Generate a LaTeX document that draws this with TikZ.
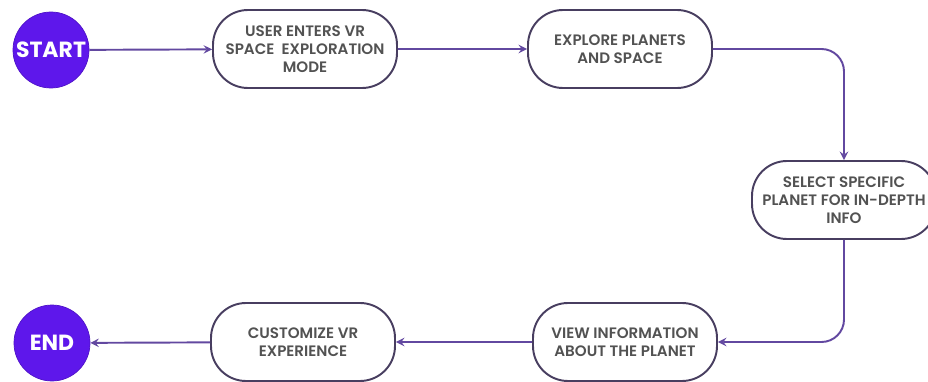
\documentclass[tikz,border=0pt]{standalone}
\usepackage{fontspec}
\setmainfont{Poppins}
\newfontfamily\stepfont{Poppins SemiBold}
\usetikzlibrary{calc}
\usetikzlibrary{shapes}
\usetikzlibrary{arrows}

\definecolor{termpurple}{RGB}{94,23,235}
\definecolor{linepurple}{RGB}{98,72,160}
\definecolor{boxedge}{RGB}{72,62,96}
\definecolor{boxtext}{RGB}{82,82,82}

\begin{document}
\begin{tikzpicture}[>=stealth,
    term/.style={circle, fill=termpurple, draw=termpurple!85!black, line width=0.4pt, minimum size=1.52cm, inner sep=0pt, text=white, font=\bfseries\fontsize{12.5}{14}\selectfont},
    stepbox/.style={draw=boxedge, fill=white, line width=1.1pt, rounded corners=0.7cm, minimum width=3.68cm, minimum height=1.56cm, align=center, text=boxtext, font=\stepfont\fontsize{8.6}{10.3}\selectfont},
    flow/.style={->, linepurple, line width=1.1pt}]
    \useasboundingbox (0,0) rectangle (18.56,-7.62);

    \node (St) at (1.02,-1.0) [term] {START};
    \node (B1) at (6.1,-0.98) [stepbox] {USER ENTERS VR\\SPACE \ EXPLORATION\\MODE};
    \node (B2) at (12.4,-0.98) [stepbox] {EXPLORE PLANETS\\AND SPACE};
    \node (B3) at (16.88,-4.0) [stepbox] {SELECT SPECIFIC\\PLANET FOR IN-DEPTH\\INFO};
    \node (B4) at (12.5,-6.84) [stepbox] {VIEW INFORMATION\\ABOUT THE PLANET};
    \node (B5) at (6.06,-6.84) [stepbox] {CUSTOMIZE VR\\EXPERIENCE};
    \node (En) at (1.04,-6.86) [term] {END};

    \draw [flow] (St) -- (B1);
    \draw [flow] (B1) -- (B2);
    \draw [flow, rounded corners=0.45cm] (B2.east) -| (B3.north);
    \draw [flow, rounded corners=0.45cm] (B3.south) |- (B4.east);
    \draw [flow] (B4) -- (B5);
    \draw [flow] (B5) -- (En);

\end{tikzpicture}
\end{document}
